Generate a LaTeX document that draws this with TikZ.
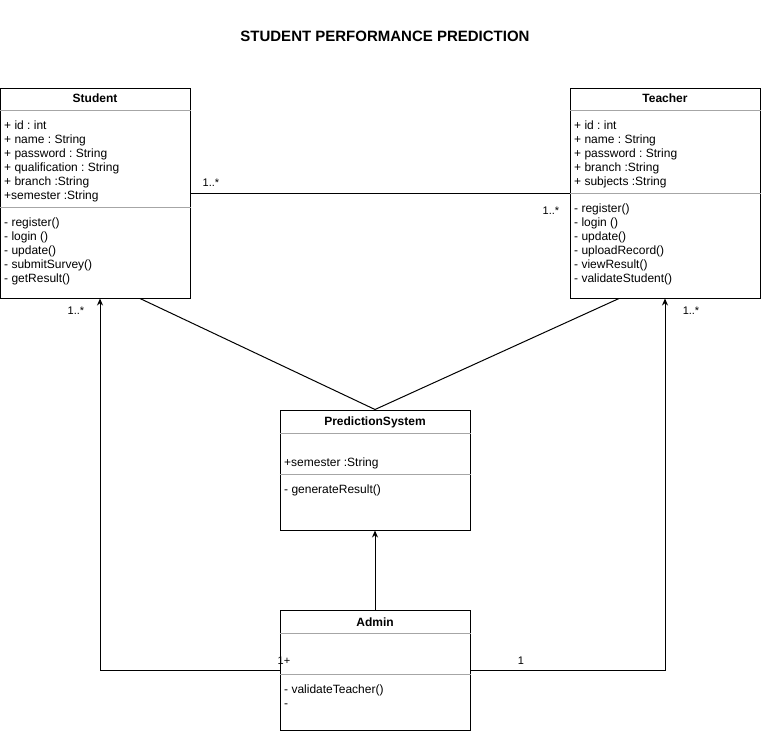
\documentclass[tikz,border=0pt]{standalone}
\usepackage{fontspec}
\setmainfont{Liberation Sans}
\usetikzlibrary{arrows.meta}
\tikzset{
  classbox/.style={draw, line width=1pt, minimum width=190pt, minimum height=120pt, inner sep=0pt},
  classname/.style={inner sep=0pt, font=\fontsize{12}{14}\selectfont\bfseries},
  member/.style={anchor=west, inner sep=0pt, text height=8.5pt, text depth=2.5pt, font=\fontsize{12}{14}\selectfont\frenchspacing},
  divider/.style={draw=gray!70, line width=1pt},
  mult/.style={inner sep=0pt, font=\fontsize{11}{13}\selectfont},
  link/.style={line width=1pt},
  inherit/.style={line width=1pt, -{Stealth[length=7pt,width=6pt]}}
}
\begin{document}
\begin{tikzpicture}[x=1pt, y=-1pt]
        \useasboundingbox[fill=white] (0,0) rectangle (761,732);

        \node[inner sep=0pt, font=\fontsize{15}{18}\selectfont\bfseries] (title) at (385,36) {STUDENT PERFORMANCE PREDICTION};

        % classes
        \node[classbox, minimum height=210pt] (student) at (95,193) {};
        \node[classbox, minimum height=210pt] (teacher) at (665,193) {};
        \node[classbox] (predsys) at (375,470) {};
        \node[classbox] (admin) at (375,670) {};

        \node[classname] (studentname) at (95,98) {Student};
        \node[classname] (teachername) at (665,98) {Teacher};
        \node[classname] (predsysname) at (375,422) {PredictionSystem};
        \node[classname] (adminname) at (375,622) {Admin};

        \draw[divider] ([yshift=-23pt]student.north west) -- ([yshift=-23pt]student.north east);
        \draw[divider] ([yshift=-120pt]student.north west) -- ([yshift=-120pt]student.north east);
        \draw[divider] ([yshift=-23pt]teacher.north west) -- ([yshift=-23pt]teacher.north east);
        \draw[divider] ([yshift=-106pt]teacher.north west) -- ([yshift=-106pt]teacher.north east);
        \draw[divider] ([yshift=-24pt]predsys.north west) -- ([yshift=-24pt]predsys.north east);
        \draw[divider] ([yshift=-65pt]predsys.north west) -- ([yshift=-65pt]predsys.north east);
        \draw[divider] ([yshift=-24pt]admin.north west) -- ([yshift=-24pt]admin.north east);
        \draw[divider] ([yshift=-65pt]admin.north west) -- ([yshift=-65pt]admin.north east);

        % members
        \foreach \m [count=\i] in {+ id : int, + name : String, + password : String, + qualification : String, + branch :String, +semester :String}
            \node[member] (sattr\i) at (4,112+14*\i) {\m};
        \foreach \m [count=\i] in {- register(), - login (), - update(), - submitSurvey(), - getResult()}
            \node[member] (sop\i) at (4,209+14*\i) {\m};
        \foreach \m [count=\i] in {+ id : int, + name : String, + password : String, + branch :String, + subjects :String}
            \node[member] (tattr\i) at (574,112+14*\i) {\m};
        \foreach \m [count=\i] in {- register(), - login (), - update(), - uploadRecord(), - viewResult(), - validateStudent()}
            \node[member] (top\i) at (574,195+14*\i) {\m};
        \node[member] (pattr1) at (284,463) {+semester :String};
        \node[member] (pop1) at (284,490) {- generateResult()};
        \node[member] (aop1) at (284,690) {- validateTeacher()};
        \node[member] (aop2) at (284,704) {-};

        % connectors
        \draw[link] (student.east) -- (teacher.west);
        \draw[link] ([xshift=45pt]student.south) -- (predsys.north);
        \draw[link] ([xshift=-46pt]teacher.south) -- (predsys.north);
        \draw[inherit] (admin.north) -- (predsys.south);
        \draw[inherit] (admin.west) -| ([xshift=5pt]student.south);
        \draw[inherit] (admin.east) -| (teacher.south);

        \node[mult] (mst) at (211,183) {1..*};
        \node[mult] (mts) at (551,211) {1..*};
        \node[mult] (mas) at (76,311) {1..*};
        \node[mult] (mat) at (691,311) {1..*};
        \node[mult] (msa) at (284,661) {1+};
        \node[mult] (mta) at (521,661) {1};
    \end{tikzpicture}
\end{document}
